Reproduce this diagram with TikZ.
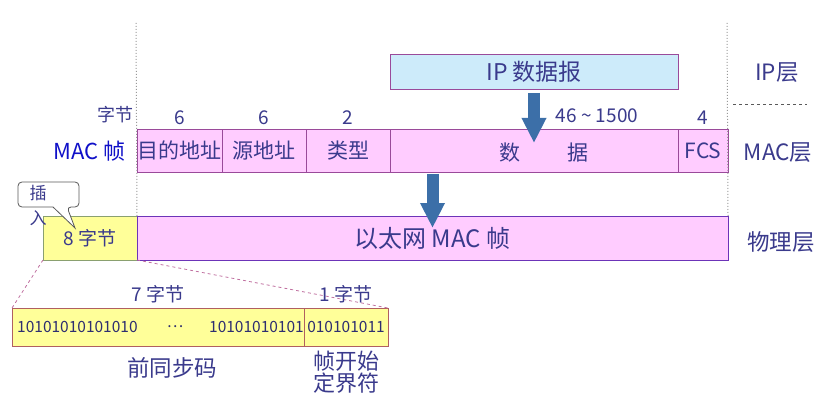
\documentclass[tikz,border=0pt]{standalone}
\usepackage{fontspec}
\setmainfont{Noto Sans CJK SC}
\usetikzlibrary{positioning,arrows.meta,calc}
\definecolor{txt}{HTML}{3A3A8C}
\definecolor{macblue}{HTML}{1010C8}
\definecolor{pinkfill}{HTML}{FFCCFF}
\definecolor{pinkline}{HTML}{9A4A9A}
\definecolor{ipfill}{HTML}{CDEBFA}
\definecolor{yelfill}{HTML}{FFFF99}
\definecolor{yelline}{HTML}{8AA070}
\definecolor{preline}{HTML}{B06060}
\definecolor{arrowblue}{HTML}{3C6FA8}
\definecolor{linkpink}{HTML}{C070A0}

\tikzset{
  field/.style={draw=pinkline,fill=pinkfill,line width=0.8pt,minimum height=43pt,
    inner sep=0pt,outer sep=0pt,text=txt,font=\fontsize{21}{24}\selectfont},
  yelbox/.style={draw=yelline,fill=yelfill,line width=0.8pt,inner sep=0pt,outer sep=0pt,
    text=txt,font=\fontsize{19}{22}\selectfont},
  num/.style={text=txt,font=\fontsize{19}{22}\selectfont,inner sep=1pt},
  bits/.style={text=txt!80!black,font=\fontsize{15.5}{18}\selectfont,inner sep=0pt},
  layer/.style={text=txt,font=\fontsize{22.5}{24}\selectfont},
  fatarrow/.style={draw=arrowblue,line width=12pt,-{Triangle[width=23pt,length=25pt]}},
  vdots/.style={draw=gray!80,dotted,line width=1pt},
  link/.style={draw=linkpink,dashed,line width=0.8pt}
}

\begin{document}
\begin{tikzpicture}[x=1pt,y=-1pt]
\useasboundingbox (0,0) rectangle (832,406);

% IP datagram
\node[field,fill=ipfill,minimum width=288pt,minimum height=35pt,anchor=north west,
  font=\fontsize{23}{24}\selectfont] (ip) at (390,54) {IP 数据报};

% MAC frame fields
\node[field,minimum width=85pt,anchor=north west] (dst) at (137,129) {目的地址};
\node[field,minimum width=84pt,right=0pt of dst] (src) {源地址};
\node[field,minimum width=84pt,right=0pt of src] (type) {类型};
\node[field,minimum width=288pt,right=0pt of type] (data) {};
\node[field,minimum width=50pt,right=0pt of data] (fcs) {FCS};
\node[text=txt,font=\fontsize{21}{24}\selectfont] (shu) at (510,153) {数};
\node[text=txt,font=\fontsize{21}{24}\selectfont] (ju) at (578,153) {据};

% byte counts
\node[num,font=\fontsize{18}{20}\selectfont,anchor=east] (zj) at (135,115) {字节};
\node[num,above=3pt of dst] (n1) {6};
\node[num,above=3pt of src] (n2) {6};
\node[num,above=3pt of type] (n3) {2};
\node[num] (n4) at (597,116) {46 \textasciitilde{} 1500};
\node[num,above=3pt of fcs] (n5) {4};
\node[text=macblue,font=\fontsize{22}{24}\selectfont,anchor=east] (mac) at (129,151) {MAC 帧};

% physical layer row
\node[yelbox,minimum width=94pt,minimum height=44pt,anchor=north west] (pre8) at (43,216) {8 字节};
\node[field,draw=pinkline!70!blue,minimum width=591pt,minimum height=44pt,font=\fontsize{24}{26}\selectfont,right=0pt of pre8] (eth) {以太网 MAC 帧};

% arrows
\draw[fatarrow] ([yshift=-4pt]ip.south) -- ([yshift=-14pt]data.north);
\draw[fatarrow] ([yshift=-2pt]eth.north |- data.south) -- ([yshift=-12pt]eth.north);

% dotted separators
\coordinate (tl) at (136,23);
\coordinate (tr) at (727,23);
\draw[vdots] (tl) -- (eth.north west);
\draw[vdots] (tr) -- (eth.north east);

% layer names
\node[layer] (lip) at (777,73) {IP层};
\node[layer] (lmac) at (778,153) {MAC层};
\node[layer] (lphy) at (781,242) {物理层};
\coordinate (d1) at (733,104);
\coordinate (d2) at (807,104);
\draw[dashed,gray!70!black,line width=0.8pt] (d1) -- (d2);

% insert callout
\draw[gray!70!black,line width=0.8pt,fill=white,rounded corners=4pt]
  (53,207) -- (18,207) -- (18,182) -- (79,182) -- (79,207) -- (67,207) [sharp corners] -- (75,228) -- cycle;
\node[text=txt,font=\fontsize{17}{25}\selectfont,align=center] (ins) at (38,205) {插\\入};

% preamble detail
\node[yelbox,draw=preline,minimum width=292pt,minimum height=38pt,anchor=north west] (pre) at (12,308) {};
\node[yelbox,draw=preline,minimum width=84pt,minimum height=38pt,right=0pt of pre] (sfd) {};
\node[bits,anchor=west] (b1) at ([xshift=5pt]pre.west) {10101010101010};
\node[bits] (b2) at (175,327) {\dots};
\node[bits,anchor=east] (b3) at (pre.east) {10101010101};
\node[bits] (b4) at (sfd) {010101011};
\draw[link] (pre8.south west) -- (pre.north west);
\draw[link] (pre8.south east) -- (sfd.north east);
\node[num,above=4pt of pre] (z7) {7 字节};
\node[num,above=4pt of sfd] (z1) {1 字节};
\node[layer] (qtb) at (172,368) {前同步码};
\node[layer,font=\fontsize{22}{22}\selectfont,align=center,below=1pt of sfd] (sfdname) {帧开始\\定界符};
\end{tikzpicture}
\end{document}
